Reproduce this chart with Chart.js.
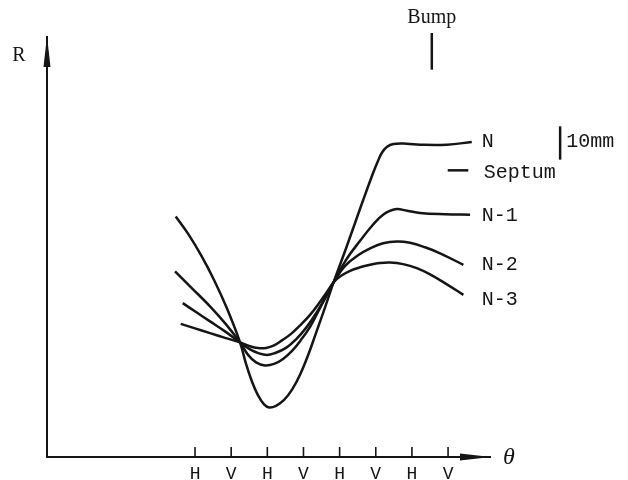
<!DOCTYPE html>
<html>
<head>
<meta charset="utf-8">
<script src="https://cdn.jsdelivr.net/npm/chart.js@4/dist/chart.umd.min.js"></script>
<style>
  body { margin: 0; background: #fff; }
  canvas { display: block; }
</style>
</head>
<body>
<canvas id="myChart" width="628" height="480"></canvas>
<script>
// Etiquetas del eje θ (posiciones H / V)
const tickLabels = ['H', 'V', 'H', 'V', 'H', 'V', 'H', 'V'];

// Curvas R(θ): [θ en pasos H/V, R en mm]
const serieN = [
    [-0.534, 72.16], [-0.194, 67.00], [0.166, 60.54], [0.526, 53.12], [0.885, 44.53],
    [1.245, 34.38], [1.411, 27.93], [1.577, 22.58], [1.743, 18.50], [1.909, 15.77],
    [2.048, 14.86], [2.241, 15.35], [2.463, 17.12], [2.684, 20.21], [2.905, 24.68],
    [3.127, 30.51], [3.348, 37.24], [3.597, 44.89], [3.832, 52.40], [4.123, 60.96],
    [4.380, 68.77], [4.649, 77.03], [4.934, 85.44], [5.064, 88.89], [5.166, 91.20],
    [5.304, 93.00], [5.487, 93.90], [5.858, 93.99], [6.226, 93.69], [6.965, 93.69],
    [7.656, 94.50]
];
const serieN1 = [
    [-0.553, 55.71], [-0.083, 50.60], [0.415, 45.20], [0.858, 39.79], [1.245, 34.38],
    [1.467, 30.63], [1.688, 28.38], [1.937, 27.48], [2.186, 27.93], [2.435, 29.43],
    [2.684, 31.83], [2.933, 35.14], [3.182, 39.04], [3.459, 44.74], [3.832, 52.40],
    [4.178, 59.16], [4.566, 64.86], [4.898, 69.37], [5.202, 72.67], [5.534, 74.32],
    [5.866, 73.90], [6.226, 73.20], [6.918, 72.82], [7.609, 72.67]
];
const serieN2 = [
    [-0.340, 46.16], [0.028, 43.48], [0.415, 40.69], [0.830, 37.69], [1.245, 34.38],
    [1.522, 32.28], [1.771, 31.08], [1.992, 30.63], [2.186, 31.08], [2.518, 32.73],
    [2.795, 35.29], [3.071, 38.74], [3.348, 43.09], [3.569, 47.15], [3.832, 52.40],
    [4.151, 57.36], [4.510, 60.51], [4.842, 62.61], [5.202, 64.11], [5.581, 64.65],
    [5.949, 64.26], [6.364, 62.91], [6.779, 61.11], [7.424, 57.66]
];
const serieN3 = [
    [-0.396, 39.94], [0.000, 38.59], [0.415, 37.15], [0.830, 35.74], [1.245, 34.38],
    [1.494, 33.33], [1.743, 32.67], [1.965, 32.73], [2.186, 33.48], [2.407, 34.98],
    [2.656, 36.94], [2.905, 39.49], [3.182, 42.64], [3.459, 46.55], [3.652, 49.55],
    [3.832, 52.40], [4.040, 54.35], [4.289, 55.86], [4.566, 56.91], [4.842, 57.66],
    [5.119, 58.20], [5.396, 58.35], [5.755, 57.87], [6.134, 56.67], [6.502, 54.80],
    [6.945, 51.95], [7.424, 48.65]
];
const seriesNames = ['N', 'N-1', 'N-2', 'N-3'];
const seriesData = [serieN, serieN1, serieN2, serieN3];

// Marcas de referencia
const septumR = 86;        // mm
const bumpTheta = 6.55;
const scaleBarMm = 10;

const ink = '#151515';
const typeFont = '"Liberation Mono", "DejaVu Sans Mono", monospace';

// Plugin para flechas, marcas y rótulos
const decorPlugin = {
    id: 'decor',
    afterDraw(chart) {
        const { ctx, scales: { x, y } } = chart;
        const x0 = x.left;
        const y0 = y.bottom;
        ctx.save();
        ctx.fillStyle = ink;
        ctx.strokeStyle = ink;

        // Flecha del eje R
        ctx.beginPath();
        ctx.moveTo(x0, y.top - 1);
        ctx.lineTo(x0 - 3.5, y.top + 30);
        ctx.lineTo(x0 + 3.5, y.top + 30);
        ctx.closePath();
        ctx.fill();

        // Flecha del eje θ
        ctx.beginPath();
        ctx.moveTo(x.right + 1, y0);
        ctx.lineTo(x.right - 30, y0 - 3.5);
        ctx.lineTo(x.right - 30, y0 + 3.5);
        ctx.closePath();
        ctx.fill();

        // Marcas H/V hacia arriba
        ctx.lineWidth = 1.6;
        tickLabels.forEach((_, i) => {
            const px = x.getPixelForValue(i);
            ctx.beginPath();
            ctx.moveTo(px, y0);
            ctx.lineTo(px, y0 - 10);
            ctx.stroke();
        });

        // Rótulos de las curvas
        ctx.font = '20px ' + typeFont;
        ctx.textBaseline = 'middle';
        ctx.textAlign = 'left';
        const labelX = x.getPixelForValue(7.93);
        const labelOffsets = [0, 1, 0, 5];
        seriesData.forEach((serie, i) => {
            const last = serie[serie.length - 1];
            ctx.fillText(seriesNames[i], labelX, y.getPixelForValue(last[1]) + labelOffsets[i]);
        });

        // Septum
        const sy = y.getPixelForValue(septumR);
        ctx.lineWidth = 2.5;
        ctx.beginPath();
        ctx.moveTo(x.getPixelForValue(6.99), sy);
        ctx.lineTo(x.getPixelForValue(7.56), sy);
        ctx.stroke();
        ctx.fillText('Septum', x.getPixelForValue(7.99), sy + 2);

        // Barra de escala 10 mm
        const bx = x.getPixelForValue(10.1);
        ctx.lineWidth = 2.5;
        ctx.beginPath();
        ctx.moveTo(bx, y.getPixelForValue(89.2));
        ctx.lineTo(bx, y.getPixelForValue(89.2 + scaleBarMm));
        ctx.stroke();
        ctx.fillText('10mm', bx + 6, y.getPixelForValue(94.5));

        // Bump
        const bumpX = x.getPixelForValue(bumpTheta);
        ctx.beginPath();
        ctx.moveTo(bumpX, y.getPixelForValue(116.2));
        ctx.lineTo(bumpX, y.getPixelForValue(127.2));
        ctx.stroke();
        ctx.textAlign = 'center';
        ctx.font = '20px "Liberation Serif", serif';
        ctx.fillText('Bump', bumpX, 18);

        // Nombres de los ejes
        ctx.fillText('R', 19, 56);
        ctx.font = 'italic 24px "Liberation Serif", serif';
        ctx.fillText('θ', x.right + 19, y0 + 1);

        ctx.restore();
    }
};

const ctx = document.getElementById('myChart').getContext('2d');
const myChart = new Chart(ctx, {
    type: 'line',
    data: {
        datasets: seriesData.map((serie, i) => ({
            label: seriesNames[i],
            data: serie,
            borderColor: ink,
            borderWidth: 2.5,
            pointRadius: 0,
            fill: false,
            tension: 0.4
        }))
    },
    options: {
        responsive: false,
        animation: false,
        layout: {
            padding: { left: 47, top: 37, right: 138, bottom: 0 }
        },
        plugins: {
            legend: { display: false },
            tooltip: { enabled: false }
        },
        scales: {
            x: {
                type: 'linear',
                min: -4.095,
                max: 8.16,
                grid: { display: false, drawTicks: false },
                border: { display: true, color: ink, width: 2 },
                afterBuildTicks: scale => {
                    scale.ticks = tickLabels.map((_, i) => ({ value: i }));
                },
                afterFit: scale => { scale.height = 23; },
                ticks: {
                    autoSkip: false,
                    maxRotation: 0,
                    padding: 6,
                    color: ink,
                    font: { family: typeFont, size: 18 },
                    callback: value => tickLabels[value]
                }
            },
            y: {
                min: 0,
                max: 126,
                grid: { display: false, drawTicks: false },
                border: { display: true, color: ink, width: 2 },
                afterFit: scale => { scale.width = 0; },
                ticks: { display: false }
            }
        }
    },
    plugins: [decorPlugin]
});
</script>
</body>
</html>
